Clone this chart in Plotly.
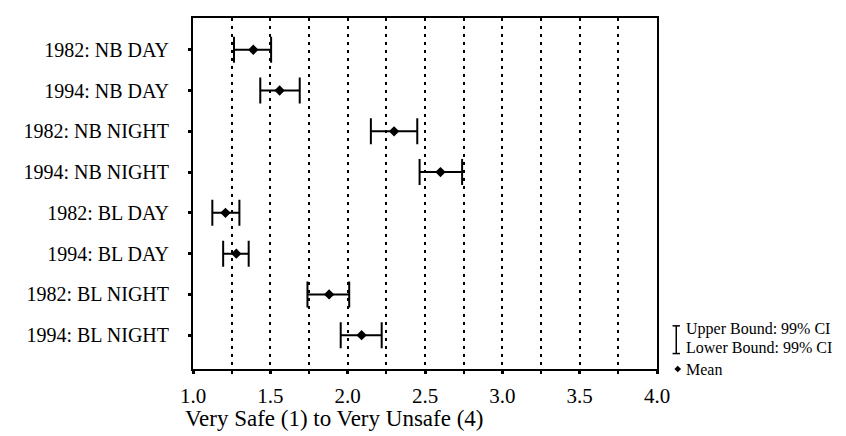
import plotly.graph_objects as go

categories = ["1982: NB DAY", "1994: NB DAY", "1982: NB NIGHT", "1994: NB NIGHT",
              "1982: BL DAY", "1994: BL DAY", "1982: BL NIGHT", "1994: BL NIGHT"]
means = [1.39, 1.56, 2.30, 2.60, 1.21, 1.28, 1.88, 2.09]
lower = [1.265, 1.435, 2.15, 2.465, 1.125, 1.195, 1.74, 1.955]
upper = [1.505, 1.69, 2.45, 2.74, 1.30, 1.36, 2.01, 2.22]
x_ticks = [1.0, 1.5, 2.0, 2.5, 3.0, 3.5, 4.0]
x_title = "Very Safe (1) to Very Unsafe (4)"
legend_labels = ["Upper Bound: 99% CI", "Lower Bound: 99% CI", "Mean"]

FONT = "Liberation Serif"
rows = list(range(len(categories)))

fig = go.Figure()
fig.add_trace(go.Scatter(
    x=means, y=rows, mode="markers",
    marker=dict(symbol="diamond", size=8, color="black"),
    error_x=dict(type="data", symmetric=False,
                 array=[u - m for u, m in zip(upper, means)],
                 arrayminus=[m - l for m, l in zip(means, lower)],
                 color="black", thickness=2, width=13),
    showlegend=False,
))

fig.update_layout(
    width=846, height=436,
    margin=dict(l=185, r=197, t=10, b=75, autoexpand=False),
    paper_bgcolor="white", plot_bgcolor="white",
    font=dict(family=FONT, size=21, color="black"),
    showlegend=False,
)
fig.update_xaxes(
    range=[1.0, 4.0], tickvals=x_ticks, ticktext=[f"{v:.1f}" for v in x_ticks],
    showline=True, linecolor="black", linewidth=2, mirror=True,
    ticks="outside", ticklen=3, tickwidth=3, tickcolor="black",
    showgrid=True, gridcolor="black", griddash="3px,5px", gridwidth=1.5,
    minor=dict(dtick=0.25, showgrid=True, gridcolor="black", griddash="3px,5px",
               gridwidth=1.5, ticks="outside", ticklen=3, tickwidth=2, tickcolor="black"),
    zeroline=False, tickfont=dict(size=21), ticklabelstandoff=4, automargin=False,
)
fig.update_yaxes(
    range=[7.83, -0.78], tickvals=rows, ticktext=categories,
    showline=True, linecolor="black", linewidth=2, mirror=True,
    ticks="outside", ticklen=3, tickwidth=3, tickcolor="black",
    showgrid=False, zeroline=False, tickfont=dict(size=20), ticklabelstandoff=15,
    automargin=False,
)

fig.add_annotation(text=x_title, xref="paper", yref="paper", x=-0.021, y=-0.14,
                   xanchor="left", yanchor="middle", showarrow=False,
                   font=dict(size=23))

# legend glyphs (manual)
bx, ytop, ybot, cw = 1.0415, 0.123, 0.044, 0.008
for shp in [dict(x0=bx, x1=bx, y0=ybot, y1=ytop),
            dict(x0=bx - cw, x1=bx + cw, y0=ytop, y1=ytop),
            dict(x0=bx - cw, x1=bx + cw, y0=ybot, y1=ybot)]:
    fig.add_shape(type="line", xref="paper", yref="paper",
                  line=dict(color="black", width=1.5), **shp)
dx, dy, cx, cy = 0.0072, 0.0095, 1.0447, 0.0
fig.add_shape(type="path", xref="paper", yref="paper",
              path=f"M {cx-dx},{cy} L {cx},{cy+dy} L {cx+dx},{cy} L {cx},{cy-dy} Z",
              fillcolor="black", line=dict(color="black", width=0))
for lab, yy in zip(legend_labels, [0.115, 0.06, 0.0]):
    fig.add_annotation(text=lab, xref="paper", yref="paper", x=1.059, y=yy,
                       xanchor="left", yanchor="middle", showarrow=False,
                       font=dict(size=16))

fig.write_html("out.html")
